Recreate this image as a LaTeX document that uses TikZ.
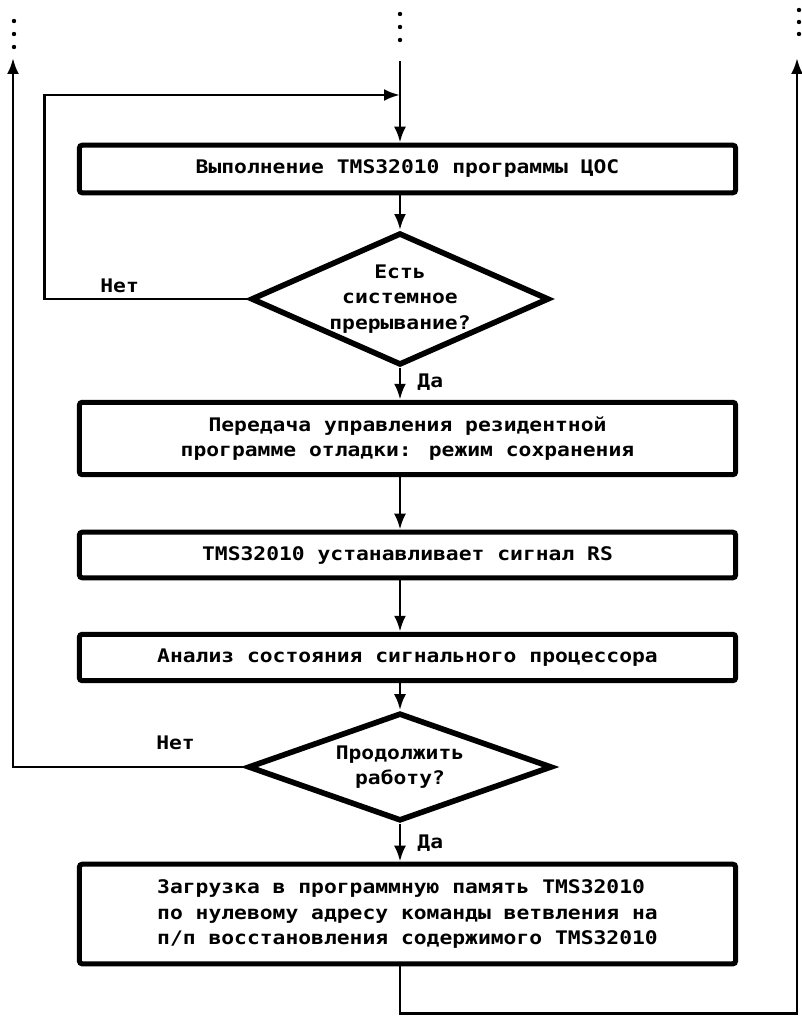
\documentclass[tikz,border=0pt]{standalone}
\usepackage{fontspec}
\newfontfamily\flowfont[FakeStretch=1.14]{DejaVu Sans Mono}
\usetikzlibrary{arrows.meta,positioning,shapes.geometric}
\tikzset{
  every picture/.style={line width=2.1pt},
  every node/.style={font=\flowfont\bfseries\fontsize{13.3}{18}\selectfont},
  box/.style={draw, line width=3.6pt, rounded corners=2pt, minimum width=16.4cm, inner sep=0pt, align=center},
  decision/.style={draw, diamond, line width=4pt, aspect=2.2, inner sep=0pt, align=center},
  desc/.style={inner sep=0pt},
}

\begin{document}
\begin{tikzpicture}[x=0.025cm, y=-0.025cm, >={Latex[length=0.4cm,width=0.3cm]}, tips=proper]
    \useasboundingbox (0,0) rectangle (801,1016);

    \node[box, minimum height=1.19cm] (exec) at (407.5,169) {Выполнение TMS32010 программы ЦОС};
    \node[decision, minimum width=7.45cm, minimum height=3.3cm] (irq) at (400,299) {Есть\\системное\\прерывание?};
    \node[box, minimum height=1.81cm] (handover) at (407.5,438.5) {Передача управления резидентной\\программе отладки: режим сохранения};
    \node[box, minimum height=1.14cm] (reset) at (407.5,555) {TMS32010 устанавливает сигнал RS};
    \node[box, minimum height=1.16cm] (state) at (407.5,657.5) {Анализ состояния сигнального процессора};
    \node[decision, minimum width=7.6cm, minimum height=2.7cm] (cont) at (400,767) {Продолжить\\работу?};
    \node[box, minimum height=2.49cm, align=left] (load) at (407.5,914) {Загрузка в программную память TMS32010\\по нулевому адресу команды ветвления на\\п/п восстановления содержимого TMS32010};

    \coordinate (entry) at (400,61);
    \coordinate (merge) at (400,95);
    \coordinate (exitL) at (13,58);
    \coordinate (exitR) at (797,58);

    % dots
    \foreach \y in {14,27,40} \fill (400,\y) circle (0.055cm);
    \foreach \y in {21,34,47} \fill (14,\y) circle (0.055cm);
    \foreach \y in {10,22,34} \fill (799,\y) circle (0.055cm);

    \draw[->] (entry) -- (entry |- exec.north);
    \draw[->] (entry |- exec.south) -- (irq.north);
    \draw[->] (irq.west) -- node[desc, above=0.12cm, pos=0.63] {Нет} ++(-204,0) |- (merge);
    \draw[->] (irq.south) -- node[desc, right=0.4cm, pos=0.45] {Да} (entry |- handover.north);
    \draw[->] (entry |- handover.south) -- (entry |- reset.north);
    \draw[->] (entry |- reset.south) -- (entry |- state.north);
    \draw[->] (entry |- state.south) -- (cont.north);
    \draw[->] (cont.west) -- node[desc, above=0.4cm, pos=0.3] {Нет} (cont.west -| exitL) -- (exitL);
    \draw[->] (cont.south) -- node[desc, right=0.4cm, pos=0.5] {Да} (entry |- load.north);
    \draw[->] (entry |- load.south) -- ++(0,47) -| (exitR);
\end{tikzpicture}
\end{document}
